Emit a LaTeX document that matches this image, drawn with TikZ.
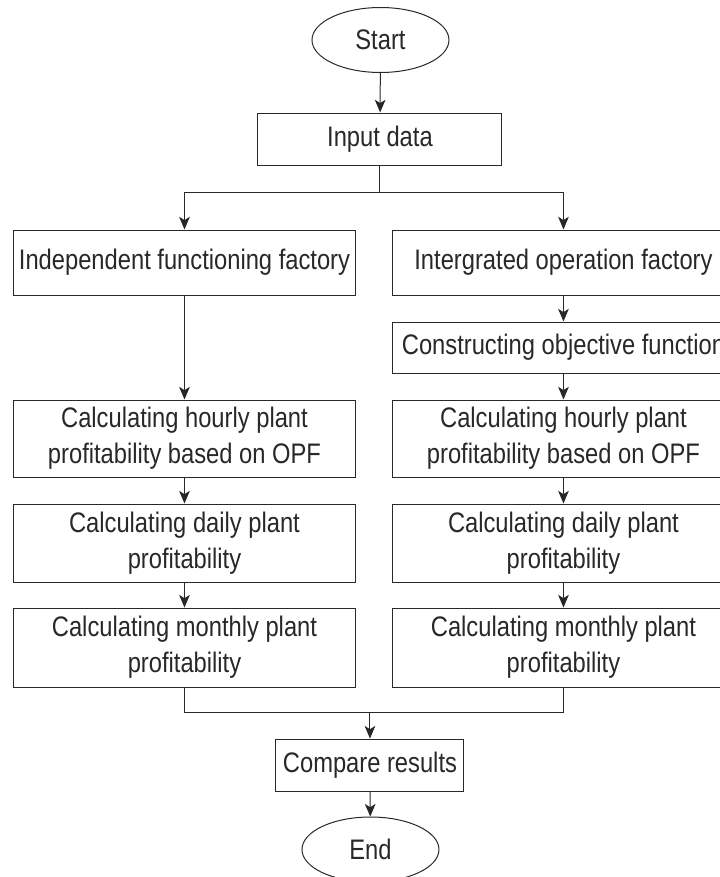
\documentclass[tikz,border=0pt]{standalone}
\usepackage{fontspec}
\setmainfont{Liberation Sans}
\usetikzlibrary{arrows.meta,shapes.geometric}
\definecolor{ink}{RGB}{40,40,40}

\begin{document}
\begin{tikzpicture}[x=0.75pt, y=-0.6303pt, yscale=1.19, transform shape,
    every node/.style={font=\fontsize{17.8}{22.7}\selectfont, text=ink},
    flowbox/.style 2 args={draw=ink, line width=0.75pt, rectangle, align=center,
        minimum width=#1*0.75pt, minimum height=#2*0.6303pt},
    terminal/.style={draw=ink, line width=0.75pt, ellipse, inner sep=0pt,
        minimum width=137*0.75pt, minimum height=65*0.6303pt},
    arrow/.style={draw=ink, line width=0.75pt, -{Stealth[length=9.5pt, width=8pt, inset=2.5pt]}},
    link/.style={draw=ink, line width=0.75pt}]
    \newcommand\colL{184.5}
    \newcommand\colR{563.5}
    \newcommand\colM{370}

    \useasboundingbox (0,0) rectangle (720,877);
    \fill[white] (0,0) rectangle (720,877);
    \clip (0,0) rectangle (720,877);

    \node[terminal] (start) at (380.5,40) {Start};
    \node[flowbox={244}{52}] (input) at (380,139) {Input data};

    % two branches
    \node[flowbox={342}{65}] (indep) at (\colL,262.5) {Independent functioning factory};
    \node[flowbox={342}{65}] (integ) at (\colR,262.5) {Intergrated operation factory};
    \node[flowbox={342}{51}] (objfn) at (\colR,347.5) {Constructing objective function};

    \node[flowbox={342}{77}] (hourL) at (\colL,438.5) {Calculating hourly plant\\profitability based on OPF};
    \node[flowbox={342}{77}] (hourR) at (\colR,438.5) {Calculating hourly plant\\profitability based on OPF};
    \node[flowbox={342}{78}] (dayL) at (\colL,543) {Calculating daily plant\\profitability};
    \node[flowbox={342}{78}] (dayR) at (\colR,543) {Calculating daily plant\\profitability};
    \node[flowbox={342}{79}] (monL) at (\colL,647.5) {Calculating monthly plant\\profitability};
    \node[flowbox={342}{79}] (monR) at (\colR,647.5) {Calculating monthly plant\\profitability};

    \node[flowbox={188}{52}] (cmp) at (\colM,765) {Compare results};
    \node[terminal] (finish) at (370.5,849.5) {End};

    \coordinate (split) at (380,192);
    \coordinate (merge) at (\colM,712);

    % draw arrows
    \draw[arrow] (start) -- (input);
    \draw[link] (input) -- (split);
    \draw[arrow] (split) -| (indep.north);
    \draw[arrow] (split) -| (integ.north);

    \draw[arrow] (indep) -- (hourL);
    \draw[arrow] (integ) -- (objfn);
    \draw[arrow] (objfn) -- (hourR);
    \draw[arrow] (hourL) -- (dayL);
    \draw[arrow] (hourR) -- (dayR);
    \draw[arrow] (dayL) -- (monL);
    \draw[arrow] (dayR) -- (monR);

    \draw[link] (monL.south) |- (merge) -| (monR.south);
    \draw[arrow] (merge) -- (cmp);
    \draw[arrow] (cmp) -- (finish);
\end{tikzpicture}
\end{document}
